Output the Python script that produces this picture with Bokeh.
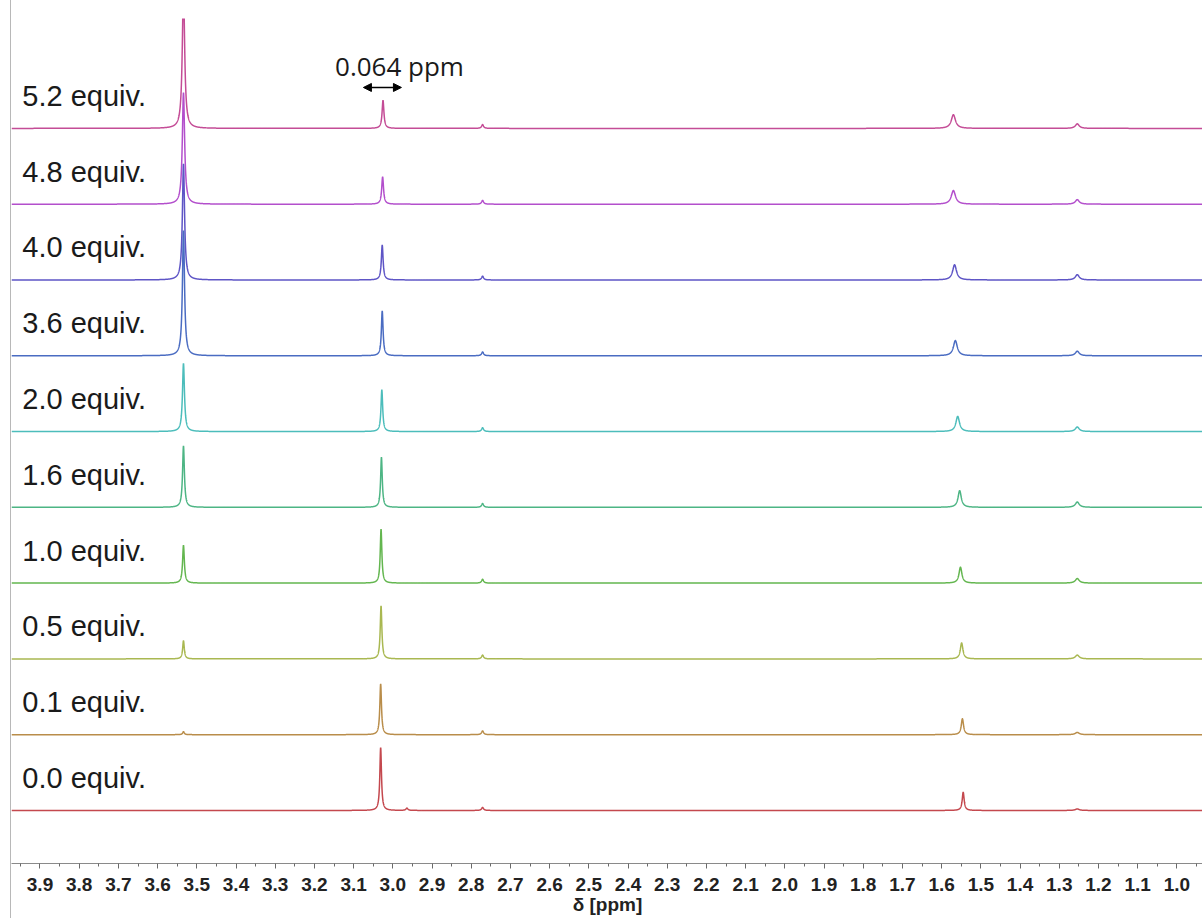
import numpy as np
from bokeh.plotting import figure
from bokeh.models import Range1d, FixedTicker, PrintfTickFormatter, Arrow, NormalHead
from bokeh.core.properties import value
from bokeh.embed import file_html
from bokeh.resources import INLINE

# ---- data (index 0 = bottom spectrum) ----
equiv_labels = ["0.0 equiv.", "0.1 equiv.", "0.5 equiv.", "1.0 equiv.", "1.6 equiv.",
                "2.0 equiv.", "3.6 equiv.", "4.0 equiv.", "4.8 equiv.", "5.2 equiv."]
offsets = [0, 100, 200, 300, 400, 500, 600, 700, 800, 900]
colors = ["#c4484e", "#b98d4a", "#a9b851", "#63b64f", "#4db584",
          "#4cbdbb", "#4a6cc2", "#5e55c6", "#b34fcc", "#c44c96"]

# peak A (~3.53 ppm)
a_shift = [3.534, 3.534, 3.534, 3.534, 3.534, 3.534, 3.534, 3.534, 3.534, 3.534]
a_height = [0, 4, 24, 50, 81, 90, 165, 153, 147, 185]
a_width = [0.0025, 0.0025, 0.0025, 0.0027, 0.0028, 0.0030, 0.0032, 0.0033, 0.0035, 0.0036]
# peak B (~3.03 ppm)
b_shift = [3.031, 3.031, 3.030, 3.030, 3.029, 3.028, 3.027, 3.027, 3.026, 3.025]
b_height = [83, 67, 70, 71, 66, 55, 59, 46, 36, 37]
b_width = [0.0025, 0.0025, 0.0025, 0.0025, 0.0025, 0.0026, 0.0026, 0.0027, 0.0028, 0.0028]
# peak C (~2.77 ppm)
c_shift = [2.771, 2.771, 2.771, 2.771, 2.771, 2.771, 2.771, 2.771, 2.771, 2.771]
c_height = [4, 5, 5, 5, 5, 5, 5, 5, 5, 5]
c_width = [0.003, 0.003, 0.003, 0.003, 0.003, 0.003, 0.003, 0.003, 0.003, 0.003]
# peak D (~1.55 ppm)
d_shift = [1.545, 1.547, 1.549, 1.552, 1.554, 1.559, 1.565, 1.567, 1.570, 1.570]
d_height = [24, 21, 21, 21, 22, 20, 20, 20, 18, 18]
d_width = [0.003, 0.0035, 0.004, 0.0045, 0.005, 0.0055, 0.006, 0.006, 0.0065, 0.0065]
# peak E (~1.25 ppm)
e_shift = [1.254, 1.254, 1.254, 1.254, 1.254, 1.254, 1.254, 1.254, 1.254, 1.254]
e_height = [2, 3, 5, 6, 7, 6, 6, 7, 6, 6]
e_width = [0.006, 0.006, 0.006, 0.006, 0.006, 0.006, 0.006, 0.006, 0.006, 0.006]
# peak F (~2.96 ppm, only bottom)
f_shift = [2.964, 2.964, 2.964, 2.964, 2.964, 2.964, 2.964, 2.964, 2.964, 2.964]
f_height = [3, 0, 0, 0, 0, 0, 0, 0, 0, 0]
f_width = [0.003, 0.003, 0.003, 0.003, 0.003, 0.003, 0.003, 0.003, 0.003, 0.003]

major_ticks = [3.9, 3.8, 3.7, 3.6, 3.5, 3.4, 3.3, 3.2, 3.1, 3.0, 2.9, 2.8, 2.7, 2.6, 2.5,
               2.4, 2.3, 2.2, 2.1, 2.0, 1.9, 1.8, 1.7, 1.6, 1.5, 1.4, 1.3, 1.2, 1.1, 1.0]
minor_ticks = [3.95, 3.85, 3.75, 3.65, 3.55, 3.45, 3.35, 3.25, 3.15, 3.05, 2.95, 2.85, 2.75,
               2.65, 2.55, 2.45, 2.35, 2.25, 2.15, 2.05, 1.95, 1.85, 1.75, 1.65, 1.55, 1.45,
               1.35, 1.25, 1.15, 1.05, 0.95]

X_LEFT, X_RIGHT = 3.9727, 0.932
Y_BOTTOM, Y_TOP = -70, 1045

peaks = [(a_shift, a_height, a_width), (b_shift, b_height, b_width),
         (c_shift, c_height, c_width), (d_shift, d_height, d_width),
         (e_shift, e_height, e_width), (f_shift, f_height, f_width)]

p = figure(width=1192, height=918, output_backend="svg", toolbar_location=None,
           x_range=Range1d(X_LEFT, X_RIGHT), y_range=Range1d(Y_BOTTOM, Y_TOP),
           y_axis_location=None, min_border_left=0, min_border_right=0,
           min_border_top=18, min_border_bottom=55,
           margin=(0, 0, 0, 10),
           styles={"border-left": "1px solid #b8b8b8"})
p.grid.visible = False
p.outline_line_color = None
p.background_fill_color = "white"
p.border_fill_color = "white"

# x grid: coarse everywhere, fine around each peak
centers = sorted(set(s for (sh, _, _) in peaks for s in sh))
xs = [np.linspace(X_RIGHT, X_LEFT, 1600)]
for c in centers:
    xs.append(np.linspace(c - 0.05, c + 0.05, 501))
    xs.append(np.array([c]))
grid = np.unique(np.concatenate(xs))

for i in reversed(range(len(equiv_labels))):
    y = np.zeros_like(grid)
    for sh, hh, ww in peaks:
        if hh[i] > 0:
            y += hh[i] * ww[i] ** 2 / ((grid - sh[i]) ** 2 + ww[i] ** 2)
    p.line(grid, y + offsets[i], line_color=colors[i], line_width=1.5)

p.text(x=[3.945] * len(equiv_labels), y=[o + 43 for o in offsets], text=equiv_labels,
       text_font=value("Liberation Sans"), text_font_size="29px",
       text_baseline="middle", text_align="left", text_color="#1a1a1a")

p.text(x=[2.983], y=[982], text=["0.064 ppm"], text_font=value("Open Sans"),
       text_font_size="26px", text_baseline="middle", text_align="center",
       text_color="#1a1a1a")
p.add_layout(Arrow(x_start=3.075, x_end=2.978, y_start=954, y_end=954,
                   line_color="black", line_width=1.5,
                   start=NormalHead(size=8, fill_color="black", line_color="black"),
                   end=NormalHead(size=8, fill_color="black", line_color="black")))

ax = p.xaxis[0]
ax.ticker = FixedTicker(ticks=major_ticks, minor_ticks=minor_ticks)
ax.formatter = PrintfTickFormatter(format="%.1f")
ax.axis_line_color = "#8a8a8a"
ax.axis_line_width = 1.2
ax.major_tick_line_color = "#6a6a6a"
ax.minor_tick_line_color = "#6a6a6a"
ax.major_tick_in = 0
ax.major_tick_out = 5
ax.minor_tick_in = 0
ax.minor_tick_out = 3
ax.major_label_text_font = "Liberation Sans"
ax.major_label_text_font_style = "bold"
ax.major_label_text_font_size = "19px"
ax.major_label_text_color = "#222222"
ax.major_label_standoff = 9
ax.axis_label = "δ [ppm]"
ax.axis_label_text_font = "Liberation Sans"
ax.axis_label_text_font_style = "bold"
ax.axis_label_text_font_size = "19px"
ax.axis_label_text_color = "#222222"
ax.axis_label_standoff = 0

open("out.html", "w").write(file_html(p, INLINE))
